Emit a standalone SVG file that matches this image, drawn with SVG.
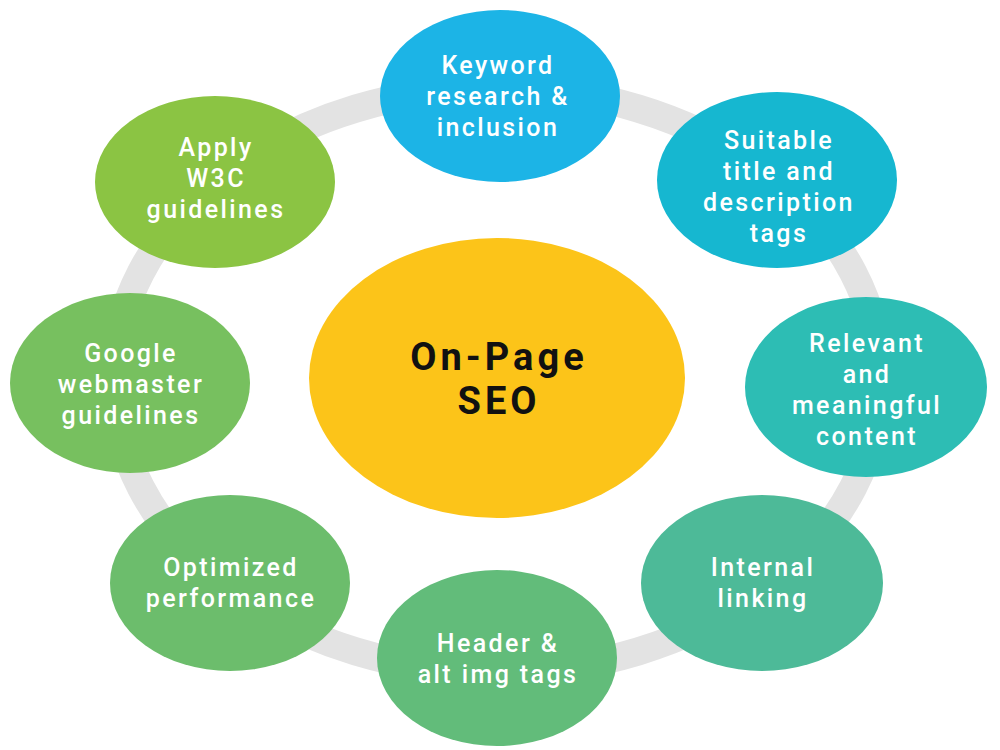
<svg xmlns="http://www.w3.org/2000/svg" width="1000" height="750" viewBox="0 0 1000 750">
<style>
.lbl{font-family:Roboto,"Liberation Sans",sans-serif;font-size:25px;font-weight:500;fill:#ffffff;text-anchor:middle;letter-spacing:2.4px}
.ctr{font-family:Roboto,"Liberation Sans",sans-serif;font-size:38px;font-weight:700;fill:#111111;text-anchor:middle;letter-spacing:4px}
</style>
<rect width="1000" height="750" fill="#ffffff"/>
<g id="connectors">
<ellipse cx="497" cy="380" rx="383" ry="292" fill="none" stroke="#e3e3e3" stroke-width="28"/>
</g>
<g id="center">
<ellipse cx="497" cy="378" rx="188" ry="140" fill="#fcc419"/>
<text class="ctr" x="499" y="370">On-Page</text>
<text class="ctr" x="499" y="414">SEO</text>
</g>
<g id="keyword">
<ellipse cx="500" cy="96" rx="120" ry="86" fill="#1cb4e6"/>
<text class="lbl" x="498" y="74">Keyword</text>
<text class="lbl" x="498" y="105">research &amp;</text>
<text class="lbl" x="498" y="136">inclusion</text>
</g>
<g id="suitable">
<ellipse cx="777" cy="180" rx="120" ry="88" fill="#16b7d0"/>
<text class="lbl" x="779" y="149">Suitable</text>
<text class="lbl" x="779" y="180">title and</text>
<text class="lbl" x="779" y="211">description</text>
<text class="lbl" x="779" y="242">tags</text>
</g>
<g id="relevant">
<ellipse cx="866" cy="387" rx="121" ry="90" fill="#2dbdb4"/>
<text class="lbl" x="867" y="352">Relevant</text>
<text class="lbl" x="867" y="383">and</text>
<text class="lbl" x="867" y="414">meaningful</text>
<text class="lbl" x="867" y="445">content</text>
</g>
<g id="internal">
<ellipse cx="762" cy="583" rx="121" ry="88" fill="#4dba98"/>
<text class="lbl" x="763" y="576">Internal</text>
<text class="lbl" x="763" y="607">linking</text>
</g>
<g id="header">
<ellipse cx="497" cy="658" rx="120" ry="88" fill="#62bc7a"/>
<text class="lbl" x="498" y="652">Header &amp;</text>
<text class="lbl" x="498" y="683">alt img tags</text>
</g>
<g id="optimized">
<ellipse cx="230" cy="583" rx="120" ry="88" fill="#6cbd6c"/>
<text class="lbl" x="231" y="576">Optimized</text>
<text class="lbl" x="231" y="607">performance</text>
</g>
<g id="google">
<ellipse cx="130" cy="383" rx="120" ry="90" fill="#77c05f"/>
<text class="lbl" x="131" y="362">Google</text>
<text class="lbl" x="131" y="393">webmaster</text>
<text class="lbl" x="131" y="424">guidelines</text>
</g>
<g id="apply">
<ellipse cx="215" cy="182" rx="120" ry="86" fill="#8bc443"/>
<text class="lbl" x="216" y="156">Apply</text>
<text class="lbl" x="216" y="187">W3C</text>
<text class="lbl" x="216" y="218">guidelines</text>
</g>
</svg>
